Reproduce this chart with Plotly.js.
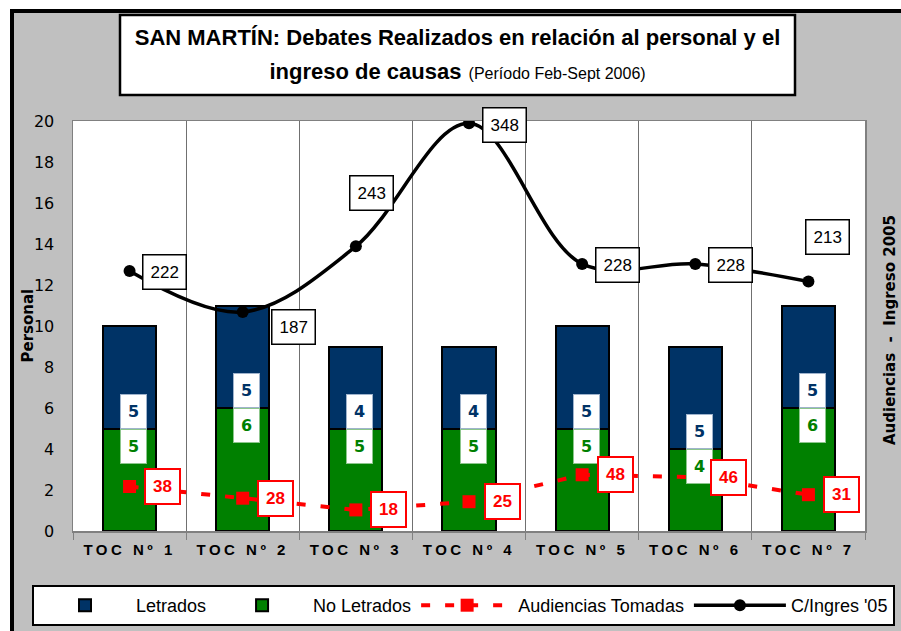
<!DOCTYPE html>
<html><head><meta charset="utf-8">
<script src="https://cdn.plot.ly/plotly-3.0.1.min.js"></script>
<style>
html,body{margin:0;padding:0;background:#fff;}
#chart{width:901px;height:631px;}
.xtick text{letter-spacing:3.5px;}
</style></head><body><div id="chart"></div>
<script>
// ---- data ----
const categories = ['TOC Nº 1','TOC Nº 2','TOC Nº 3','TOC Nº 4','TOC Nº 5','TOC Nº 6','TOC Nº 7'];
const letrados   = [5, 5, 4, 4, 5, 5, 5];
const noLetrados = [5, 6, 5, 5, 5, 4, 6];
const audiencias = [38, 28, 18, 25, 48, 46, 31];
const ingresos   = [222, 187, 243, 348, 228, 228, 213];
const yTicks = [0, 2, 4, 6, 8, 10, 12, 14, 16, 18, 20];

// ---- layout helpers (pixels -> paper) ----
const W = 901, H = 631, M = {l: 73, r: 36, t: 121, b: 100, autoexpand: false};
const PW = W - M.l - M.r, PH = H - M.t - M.b;
const px = x => (x - M.l) / PW;
const py = y => (H - M.b - y) / PH;

const NAVY = '#003366', GREEN = '#008000', RED = '#ff0000';

const traces = [
  {type: 'bar', name: 'No Letrados', x: categories, y: noLetrados, width: 0.47,
   marker: {color: GREEN, line: {color: '#000', width: 2}}, legendrank: 2, hoverinfo: 'skip'},
  {type: 'bar', name: 'Letrados', x: categories, y: letrados, width: 0.47,
   marker: {color: NAVY, line: {color: '#000', width: 2}}, legendrank: 1, hoverinfo: 'skip'},
  {type: 'scatter', mode: 'lines+markers', name: 'Audiencias Tomadas', x: categories, y: audiencias,
   yaxis: 'y2', line: {color: RED, width: 4, dash: '9px,15px'},
   marker: {symbol: 'square', size: 13, color: RED}, legendrank: 3, hoverinfo: 'skip'},
  {type: 'scatter', mode: 'lines+markers', name: "C/Ingres '05", x: categories, y: ingresos,
   yaxis: 'y2', line: {color: '#000', width: 3.5, shape: 'spline', smoothing: 1},
   marker: {symbol: 'circle', size: 12, color: '#000'}, legendrank: 4, hoverinfo: 'skip'}
];

// label offsets (pixels) for the C/Ingres labels
const ingOffX = [35, 51, 16, 35, 35, 35, 19];
const ingOffY = [-1, -15, 53, -2, -1, -1, 44];

const annotations = [];
categories.forEach((c, i) => {
  annotations.push({x: c, y: noLetrados[i], xref: 'x', yref: 'y', yanchor: 'bottom', xshift: 4,
    text: String(letrados[i]), showarrow: false,
    font: {family: 'DejaVu Sans', size: 16, color: NAVY, weight: 'bold'},
    bgcolor: '#fff', bordercolor: '#9fb3cc', borderwidth: 1, borderpad: 7});
  annotations.push({x: c, y: noLetrados[i], xref: 'x', yref: 'y', yanchor: 'top', xshift: 4,
    text: String(noLetrados[i]), showarrow: false,
    font: {family: 'DejaVu Sans', size: 16, color: GREEN, weight: 'bold'},
    bgcolor: '#fff', bordercolor: '#8cc68c', borderwidth: 1, borderpad: 7});
  annotations.push({x: c, y: audiencias[i], xref: 'x', yref: 'y2', xshift: 33,
    text: String(audiencias[i]), showarrow: false,
    font: {family: 'Liberation Sans', size: 17, color: RED, weight: 'bold'},
    bgcolor: '#fff', bordercolor: RED, borderwidth: 2, borderpad: 7});
  annotations.push({x: c, y: ingresos[i], xref: 'x', yref: 'y2', xshift: ingOffX[i], yshift: ingOffY[i],
    text: String(ingresos[i]), showarrow: false,
    font: {family: 'Liberation Sans', size: 17, color: '#000'},
    bgcolor: '#fff', bordercolor: '#000', borderwidth: 1.5, borderpad: 7});
});
// axis titles
annotations.push({xref: 'paper', yref: 'paper', x: px(890), y: py(330), xanchor: 'center', yanchor: 'middle',
  textangle: -90, text: 'Audiencias  -  Ingreso 2005', showarrow: false,
  font: {family: 'DejaVu Sans', size: 15, color: '#000', weight: 'bold'}});
annotations.push({xref: 'paper', yref: 'paper', x: px(27.5), y: py(326), xanchor: 'center', yanchor: 'middle',
  textangle: -90, text: 'Personal', showarrow: false,
  font: {family: 'DejaVu Sans', size: 15, color: '#000', weight: 'bold'}});

const shapes = [
  {type: 'rect', xref: 'paper', yref: 'paper', x0: px(-5), x1: px(10), y0: py(640), y1: py(-5),
   fillcolor: '#fff', line: {width: 0}, layer: 'below'},
  {type: 'rect', xref: 'paper', yref: 'paper', x0: px(-5), x1: px(910), y0: py(9), y1: py(-5),
   fillcolor: '#fff', line: {width: 0}, layer: 'below'},
  {type: 'line', xref: 'paper', yref: 'paper', x0: px(12), x1: px(12), y0: py(9), y1: py(640),
   line: {color: '#000', width: 4}, layer: 'below'},
  {type: 'line', xref: 'paper', yref: 'paper', x0: px(10), x1: px(910), y0: py(11), y1: py(11),
   line: {color: '#000', width: 4}, layer: 'below'},
  {type: 'rect', xref: 'paper', yref: 'paper', x0: px(120), x1: px(795), y0: py(95), y1: py(15),
   fillcolor: '#fff', line: {color: '#000', width: 2.5}, layer: 'below'}
];

const layout = {
  width: W, height: H,
  margin: M,
  paper_bgcolor: '#c0c0c0',
  plot_bgcolor: '#fff',
  barmode: 'stack',
  showlegend: true,
  title: {
    text: '<span style="font-size:22px"><b>SAN MARTÍN: Debates Realizados en relación al personal y el</b></span><br>' +
          '<span style="font-size:22px"><b>ingreso de causas</b></span> <span style="font-size:16px">(Período Feb-Sept 2006)</span>',
    font: {family: 'Liberation Sans', size: 26, color: '#000'},
    x: px(457.5), xref: 'paper', xanchor: 'center',
    y: 1 - 45 / H, yref: 'container', yanchor: 'middle'
  },
  xaxis: {
    type: 'category', tickson: 'boundaries', ticks: 'outside', ticklen: 7, tickcolor: '#808080',
    ticklabelstandoff: 4,
    showgrid: true, gridcolor: '#707070', gridwidth: 1,
    showline: true, linecolor: '#808080', linewidth: 1.5, mirror: true,
    tickfont: {family: 'Liberation Sans', size: 15, color: '#000', weight: 'bold'},
    automargin: false, fixedrange: true
  },
  yaxis: {
    range: [0, 20], tickvals: yTicks, ticktext: yTicks.map(String), ticks: '', ticklabelstandoff: 14,
    showgrid: false, zeroline: false,
    showline: true, linecolor: '#808080', linewidth: 1.5, mirror: true,
    tickfont: {family: 'DejaVu Sans', size: 16, color: '#000'},
    automargin: false, fixedrange: true
  },
  yaxis2: {
    range: [0, 350], overlaying: 'y', side: 'right', showticklabels: false, ticks: '',
    showgrid: false, zeroline: false, showline: false, automargin: false, fixedrange: true
  },
  legend: {
    orientation: 'h', x: px(32), xanchor: 'left', y: py(585), yanchor: 'top',
    bgcolor: '#fff', bordercolor: '#000', borderwidth: 2,
    font: {family: 'Liberation Sans', size: 18, color: '#000'},
    itemwidth: 92, traceorder: 'normal'
  },
  annotations: annotations,
  shapes: shapes
};

Plotly.newPlot('chart', traces, layout, {staticPlot: true});
</script></body></html>
